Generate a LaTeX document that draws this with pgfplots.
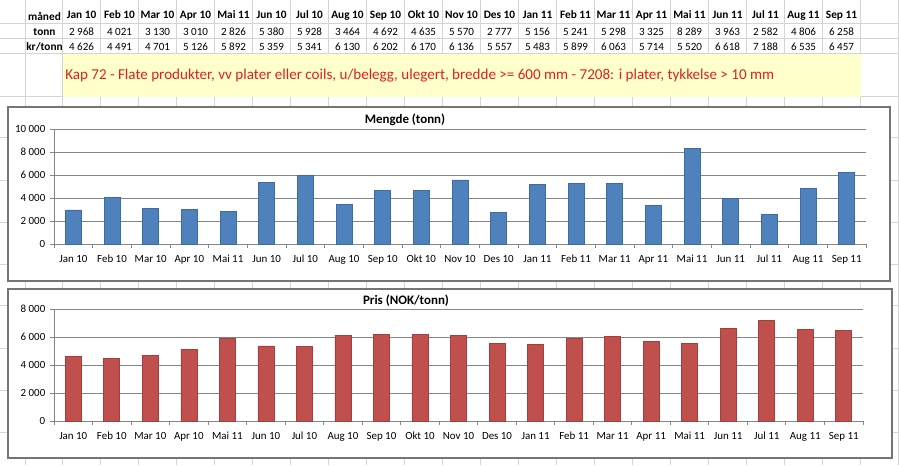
\documentclass[border=0pt]{standalone}
\usepackage{pgfplots}
\pgfplotsset{compat=1.18}
\usepackage{pgfplotstable}
\usepackage{fontspec}
\setmainfont{Carlito}
\definecolor{xlgrid}{HTML}{D4D4D4}
\definecolor{axgray}{HTML}{868686}
\definecolor{framegray}{HTML}{757575}
\definecolor{barblue}{HTML}{4F81BD}
\definecolor{barblueedge}{HTML}{3C6CA6}
\definecolor{barred}{HTML}{C0504D}
\definecolor{barrededge}{HTML}{A63F3C}
\definecolor{notefill}{HTML}{FFFFCC}
\definecolor{notered}{HTML}{E0201C}

\pgfplotstableread{
i tonn kr
0 2968 4626
1 4021 4491
2 3130 4701
3 3010 5126
4 2826 5892
5 5380 5359
6 5928 5341
7 3464 6130
8 4692 6202
9 4635 6170
10 5570 6136
11 2777 5557
12 5156 5483
13 5241 5899
14 5298 6063
15 3325 5714
16 8289 5520
17 3963 6618
18 2582 7188
19 4806 6535
20 6258 6457
}\datatable

\pgfplotsset{
  xlchart/.style={
    scale only axis, anchor=south west,
    xmin=-0.5, xmax=20.5, ymin=0,
    scaled y ticks=false,
    axis x line*=bottom, axis y line*=left,
    axis line style={axgray, line width=0.75pt},
    xtick={0,...,20},
    xticklabels={Jan 10,Feb 10,Mar 10,Apr 10,Mai 11,Jun 10,Jul 10,Aug 10,Sep 10,Okt 10,Nov 10,Des 10,Jan 11,Feb 11,Mar 11,Apr 11,Mai 11,Jun 11,Jul 11,Aug 11,Sep 11},
    major x tick style={draw=none},
    minor xtick={-0.5,0.5,...,20.5},
    tick align=outside, major tick length=3pt, minor tick length=3pt,
    tick style={axgray, line width=0.75pt},
    ymajorgrids, grid style={axgray, line width=0.75pt},
    ybar, bar width=12pt,
    tick label style={font=\fontsize{8.2}{9}\selectfont, text=black, text height=6pt, text depth=1.5pt},
    xticklabel style={yshift=-1pt},
  }
}

\begin{document}
\begin{tikzpicture}
\begin{scope}[x=0.75pt,y=-0.75pt,shift={(0pt,348.75pt)}]
\path[use as bounding box] (0,0) rectangle (899,465);
% spreadsheet grid
\foreach \k in {0,...,22} \draw[xlgrid, line width=0.75pt] ({62.5+38*\k},0) -- ({62.5+38*\k},465);
\draw[xlgrid, line width=0.75pt] (25,0) -- (25,465);
\foreach \y in {24,39,54,97,138,180,222,264,305,348,390,432} \draw[xlgrid, line width=0.75pt] (0,\y) -- (899,\y);
% table
\node[font=\bfseries\fontsize{8.5}{10}\selectfont] at (44.5,16) {måned};
\node[font=\bfseries\fontsize{8.5}{10}\selectfont] at (44.5,32) {tonn};
\node[font=\bfseries\fontsize{8.5}{10}\selectfont] at (44.5,47) {kr/tonn};
\foreach \m [count=\k from 0] in {Jan 10,Feb 10,Mar 10,Apr 10,Mai 11,Jun 10,Jul 10,Aug 10,Sep 10,Okt 10,Nov 10,Des 10,Jan 11,Feb 11,Mar 11,Apr 11,Mai 11,Jun 11,Jul 11,Aug 11,Sep 11}
  \node[font=\bfseries\fontsize{8.5}{10}\selectfont, text height=6pt, text depth=1.5pt] at ({81.5+38*\k},16) {\m};
\foreach \v [count=\k from 0] in {2 968,4 021,3 130,3 010,2 826,5 380,5 928,3 464,4 692,4 635,5 570,2 777,5 156,5 241,5 298,3 325,8 289,3 963,2 582,4 806,6 258}
  \node[font=\fontsize{8.3}{10}\selectfont] at ({81.5+38*\k},32) {\v};
\foreach \v [count=\k from 0] in {4 626,4 491,4 701,5 126,5 892,5 359,5 341,6 130,6 202,6 170,6 136,5 557,5 483,5 899,6 063,5 714,5 520,6 618,7 188,6 535,6 457}
  \node[font=\fontsize{8.3}{10}\selectfont] at ({81.5+38*\k},47) {\v};
% note box
\fill[notefill] (62.5,54.5) rectangle (861,97);
\node[anchor=west, inner sep=0pt, text=notered, font=\fontsize{11.3}{13}\selectfont] at (65,75.5) {Kap 72 - Flate produkter, vv plater eller coils, u/belegg, ulegert, bredde >= 600 mm - 7208: i plater, tykkelse > 10 mm};
% chart frames
\draw[framegray, fill=white, line width=1.1pt] (8,107) rectangle (890,281);
\draw[framegray, fill=white, line width=1.1pt] (8,289) rectangle (892,458);
\node[font=\bfseries\fontsize{9.7}{11}\selectfont] at (405,120) {Mengde (tonn)};
\node[font=\bfseries\fontsize{9.7}{11}\selectfont] at (406,301) {Pris (NOK/tonn)};
\end{scope}

\begin{axis}[xlchart,
  at={(40.5pt,165.75pt)}, width=609pt, height=86.25pt,
  ymax=10000, ytick={0,2000,...,10000},
  yticklabels={0,2 000,4 000,6 000,8 000,10 000}]
\addplot[fill=barblue, draw=barblueedge, line width=0.5pt] table[x=i, y=tonn] {\datatable};
\end{axis}

\begin{axis}[xlchart,
  at={(40.5pt,33pt)}, width=606.75pt, height=84pt,
  ymax=8000, ytick={0,2000,...,8000},
  yticklabels={0,2 000,4 000,6 000,8 000}]
\addplot[fill=barred, draw=barrededge, line width=0.5pt] table[x=i, y=kr] {\datatable};
\end{axis}
\end{tikzpicture}
\end{document}
